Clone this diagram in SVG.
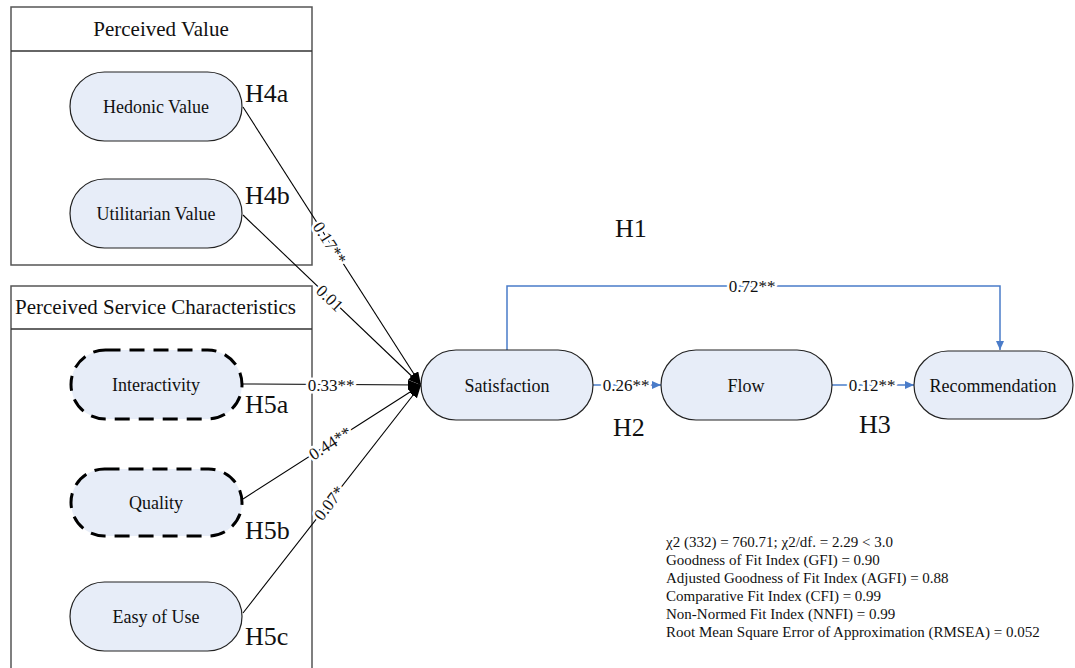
<svg xmlns="http://www.w3.org/2000/svg" width="1075" height="668" viewBox="0 0 1075 668">
<style>
text{font-family:"Liberation Serif","Times New Roman",serif;fill:#111}
.box{fill:#fff;stroke:#555;stroke-width:1.5}
.div{stroke:#333;stroke-width:1.3}
.title{font-size:21px}
.node{fill:#E7EDF8;stroke:#222;stroke-width:1.2}
.dash{fill:#E7EDF8;stroke:#000;stroke-width:3;stroke-dasharray:15 9}
.nt{font-size:18px;text-anchor:middle}
.h{font-size:26px}
.bl{stroke:#000;stroke-width:1.1;fill:none}
.blue{stroke:#4A7CC9;stroke-width:1.5;fill:none}
.lab{font-size:17px;text-anchor:middle;stroke:#fff;stroke-width:5;paint-order:stroke;stroke-linejoin:round}
.stat{font-size:15px}
</style>
<defs>
<marker id="ab" markerUnits="userSpaceOnUse" markerWidth="14" markerHeight="12" refX="13" refY="5" orient="auto">
<path d="M0,0 L13,5 L0,10 z" fill="#000"/>
</marker>
<marker id="au" markerUnits="userSpaceOnUse" markerWidth="10" markerHeight="10" refX="9" refY="4" orient="auto">
<path d="M0,0 L9,4 L0,8 z" fill="#4A7CC9"/>
</marker>
</defs>

<g id="perceived-value">
<rect class="box" x="11" y="7" width="301" height="258"/>
<line class="div" x1="11" y1="51" x2="312" y2="51"/>
<text class="title" x="161" y="36" text-anchor="middle">Perceived Value</text>
</g>
<g id="perceived-service">
<rect class="box" x="11" y="286" width="301" height="400"/>
<line class="div" x1="11" y1="329" x2="312" y2="329"/>
<text class="title" x="15" y="314">Perceived Service Characteristics</text>
</g>

<g id="connectors">
<line class="bl" x1="243" y1="107" x2="421" y2="385" marker-end="url(#ab)"/>
<line class="bl" x1="243" y1="215" x2="421" y2="385" marker-end="url(#ab)"/>
<line class="bl" x1="243" y1="384" x2="421" y2="385" marker-end="url(#ab)"/>
<line class="bl" x1="243" y1="499" x2="421" y2="385" marker-end="url(#ab)"/>
<line class="bl" x1="243" y1="613" x2="421" y2="385" marker-end="url(#ab)"/>
<path class="blue" d="M507,350 V286 H1000 V350" marker-end="url(#au)"/>
<line class="blue" x1="593" y1="385" x2="661" y2="385" marker-end="url(#au)"/>
<line class="blue" x1="832" y1="385" x2="914" y2="385" marker-end="url(#au)"/>
<text class="lab" transform="translate(330,243) rotate(57.4)" y="6">0.17**</text>
<text class="lab" transform="translate(330,298) rotate(43.7)" y="6">0.01</text>
<text class="lab" x="331" y="391">0.33**</text>
<text class="lab" transform="translate(330,443) rotate(-32.6)" y="6">0.44**</text>
<text class="lab" transform="translate(329,503) rotate(-52)" y="6">0.07*</text>
<text class="lab" x="752" y="292">0.72**</text>
<text class="lab" x="626" y="391">0.26**</text>
<text class="lab" x="872" y="391">0.12**</text>
</g>

<g id="hedonic">
<rect class="node" x="70" y="72" width="172" height="69" rx="34.5"/>
<text class="nt" x="156" y="113">Hedonic Value</text>
<text class="h" x="245" y="102">H4a</text>
</g>
<g id="utilitarian">
<rect class="node" x="70" y="179" width="172" height="69" rx="34.5"/>
<text class="nt" x="156" y="220">Utilitarian Value</text>
<text class="h" x="245" y="204">H4b</text>
</g>
<g id="interactivity">
<rect class="dash" x="71" y="350" width="171" height="69" rx="34.5"/>
<text class="nt" x="156" y="391">Interactivity</text>
<text class="h" x="245" y="413">H5a</text>
</g>
<g id="quality">
<rect class="dash" x="71" y="469" width="171" height="67" rx="33.5"/>
<text class="nt" x="156" y="509">Quality</text>
<text class="h" x="245" y="539">H5b</text>
</g>
<g id="ease">
<rect class="node" x="70" y="582" width="172" height="69" rx="34.5"/>
<text class="nt" x="156" y="623">Easy of Use</text>
<text class="h" x="245" y="645">H5c</text>
</g>
<g id="satisfaction">
<rect class="node" x="421" y="350" width="172" height="70" rx="35"/>
<text class="nt" x="507" y="392">Satisfaction</text>
</g>
<g id="flow">
<rect class="node" x="661" y="350" width="171" height="70" rx="35"/>
<text class="nt" x="746" y="392">Flow</text>
</g>
<g id="recommendation">
<rect class="node" x="914" y="351" width="159" height="68" rx="34"/>
<text class="nt" x="993" y="392">Recommendation</text>
</g>
<g id="hyp-labels">
<text class="h" x="615" y="237">H1</text>
<text class="h" x="613" y="436">H2</text>
<text class="h" x="859" y="433">H3</text>
</g>
<g id="fit-stats">
<text class="stat" x="666" y="547">χ2 (332) = 760.71; χ2/df. = 2.29 &lt; 3.0</text>
<text class="stat" x="666" y="565">Goodness of Fit Index (GFI) = 0.90</text>
<text class="stat" x="666" y="583">Adjusted Goodness of Fit Index (AGFI) = 0.88</text>
<text class="stat" x="666" y="601">Comparative Fit Index (CFI) = 0.99</text>
<text class="stat" x="666" y="619">Non-Normed Fit Index (NNFI) = 0.99</text>
<text class="stat" x="666" y="637">Root Mean Square Error of Approximation (RMSEA) = 0.052</text>
</g>
</svg>
